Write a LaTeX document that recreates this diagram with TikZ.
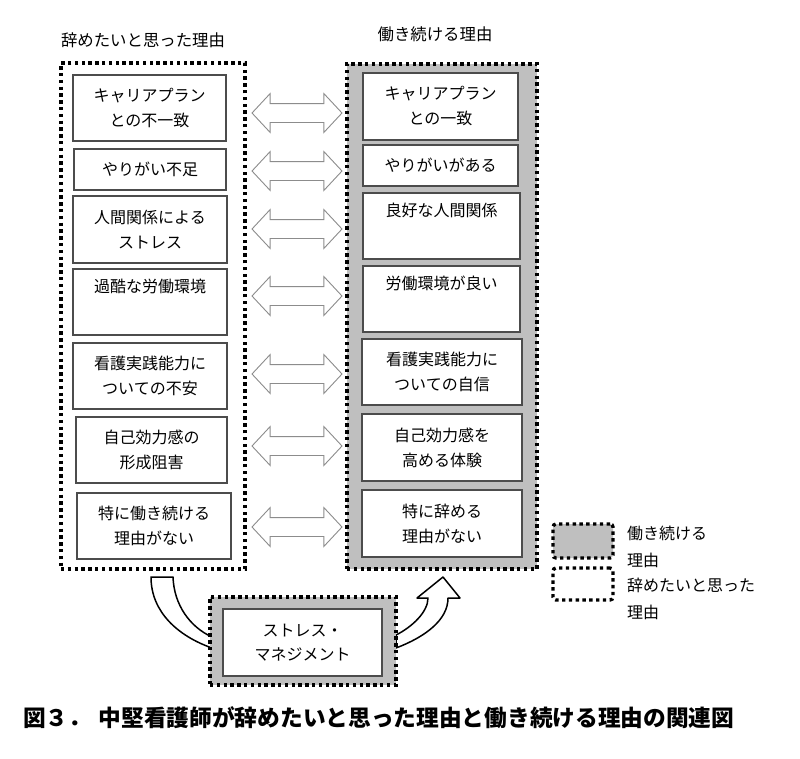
\documentclass[tikz,border=0pt]{standalone}
\usepackage{fontspec}
\newfontfamily\jp{Noto Sans CJK JP}
\usetikzlibrary{shapes.arrows}
\begin{document}
\begin{tikzpicture}[x=1pt,y=-1pt,
  outerdots/.style={draw=black, line width=3.4pt, dash pattern=on 3.4pt off 3.4pt, inner sep=0pt},
  greyfill/.style={fill=black!25},
  inbox/.style={draw=black!70, line width=1.2pt, fill=white, inner sep=0pt, align=center,
    font=\jp\fontsize{16}{25}\selectfont},
  dblarrow/.style={double arrow, draw=black!45, fill=white, line width=0.9pt,
    inner xsep=0pt, inner ysep=9pt,
    minimum height=90pt, minimum width=38pt, double arrow head extend=10pt,
    double arrow tip angle=94},
  band/.style={draw=black, line width=1.5pt, fill=white, line join=round},
  titletext/.style={font=\jp\fontsize{16.4}{20}\selectfont, inner sep=0pt},
  legtext/.style={font=\jp\fontsize{16}{27}\selectfont, align=left, anchor=west, inner sep=0pt},
]
\useasboundingbox (0,0) rectangle (800,758);
\fill[white] (0,0) rectangle (800,758);

% titles
\node[titletext] (TL) at (143,40) {辞めたいと思った理由};
\node[titletext] (TR) at (435,34) {働き続ける理由};

% outer boxes
\node[outerdots, minimum width=184pt, minimum height=506pt] (LO) at (153,316) {};
\node[outerdots, greyfill, minimum width=190pt, minimum height=505pt] (RO) at (442,316.5) {};

% left boxes
\node[inbox, minimum width=153pt, minimum height=66pt] (L1) at (149.5,108) {キャリアプラン\\との不一致};
\node[inbox, minimum width=152pt, minimum height=41pt] (L2) at (150,169.5) {やりがい不足};
\node[inbox, minimum width=154pt, minimum height=67pt] (L3) at (150,229.5) {人間関係による\\ストレス};
\node[inbox, minimum width=154pt, minimum height=66pt] (L4) at (150,302) {過酷な労働環境\\\strut};
\node[inbox, minimum width=154pt, minimum height=66pt] (L5) at (150,376) {看護実践能力に\\ついての不安};
\node[inbox, minimum width=151pt, minimum height=66pt] (L6) at (151.5,450) {自己効力感の\\形成阻害};
\node[inbox, minimum width=154pt, minimum height=66pt] (L7) at (154,526) {特に働き続ける\\理由がない};

% right boxes
\node[inbox, minimum width=155pt, minimum height=67pt] (R1) at (440.5,106.5) {キャリアプラン\\との一致};
\node[inbox, minimum width=155pt, minimum height=41pt] (R2) at (440.5,165.5) {やりがいがある};
\node[inbox, minimum width=157pt, minimum height=66pt] (R3) at (441.5,226) {良好な人間関係\\\strut};
\node[inbox, minimum width=157pt, minimum height=66pt] (R4) at (441.5,299) {労働環境が良い\\\strut};
\node[inbox, minimum width=160pt, minimum height=66pt] (R5) at (442,372) {看護実践能力に\\ついての自信};
\node[inbox, minimum width=160pt, minimum height=67pt] (R6) at (442,447.5) {自己効力感を\\高める体験};
\node[inbox, minimum width=160pt, minimum height=67pt] (R7) at (442,523.5) {特に辞める\\理由がない};

% double arrows
\node[dblarrow] (A1) at (297,113) {};
\node[dblarrow] (A2) at (297,171) {};
\node[dblarrow] (A3) at (297,229) {};
\node[dblarrow] (A4) at (297,296) {};
\node[dblarrow] (A5) at (297,374) {};
\node[dblarrow] (A6) at (297,446) {};
\node[dblarrow] (A7) at (297,527) {};

% curved band arrows
\draw[band] (151,577) .. controls (151,612) and (178,636) .. (212,648)
  -- (212,637) .. controls (190,627) and (174,605) .. (173,577) -- cycle;
\draw[band] (396,635) .. controls (412,627) and (428,612) .. (428,598)
  -- (417,598) -- (443,577) -- (460,598) -- (448,598)
  .. controls (448,620) and (425,637) .. (396,648) -- cycle;

% stress management box
\node[outerdots, greyfill, minimum width=186pt, minimum height=88pt] (SO) at (303,641) {};
\node[inbox, minimum width=159pt, minimum height=67pt, font=\jp\fontsize{16}{24}\selectfont] (SI) at (302.5,642.5) {ストレス・\\マネジメント};

% legend
\node[outerdots, greyfill, rounded corners=3pt, minimum width=60pt, minimum height=34pt] (LG1) at (583,541) {};
\node[outerdots, rounded corners=3pt, minimum width=60pt, minimum height=32pt] (LG2) at (583,584) {};
\node[legtext] (LT1) at (627,546.5) {働き続ける\\理由};
\node[legtext] (LT2) at (627,599) {辞めたいと思った\\理由};

% caption
\node[anchor=west, inner sep=0pt, font=\jp\bfseries\fontsize{22.7}{26}\selectfont] (CAP) at (23,718)
  {図３．\hspace{7.5pt}中堅看護師が辞めたいと思った理由と働き続ける理由の関連図};
\end{tikzpicture}
\end{document}
